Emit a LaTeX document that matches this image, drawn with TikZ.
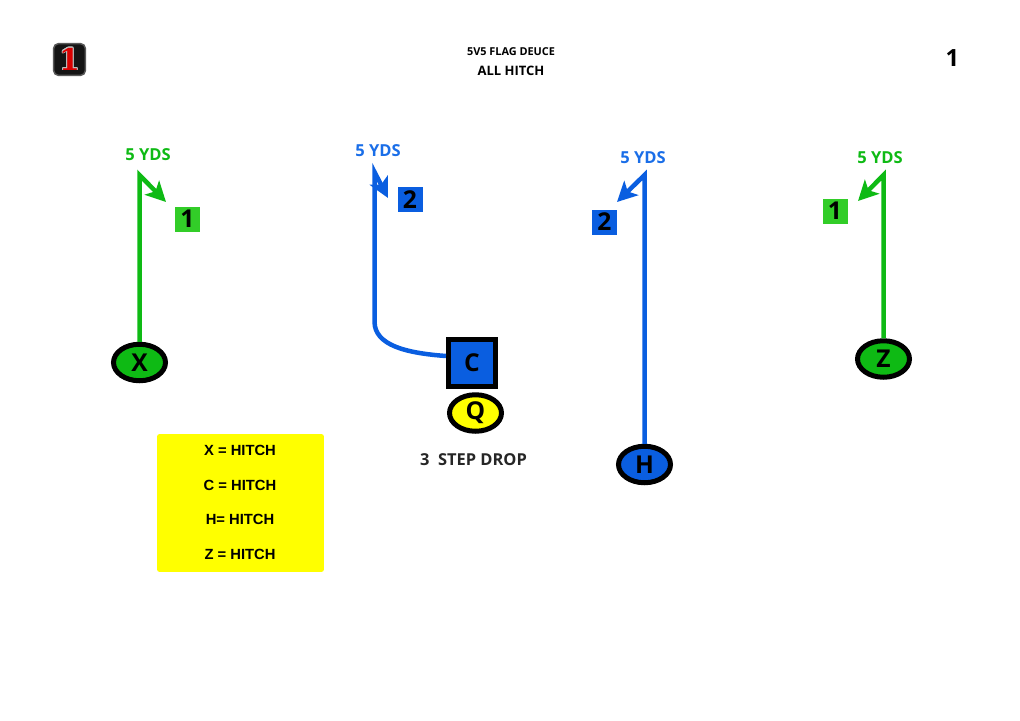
\documentclass[tikz,border=0pt]{standalone}
\usepackage{fontspec}
\usepackage{contour}
\setmainfont{Open Sans}
\newfontfamily\legendfont{Liberation Sans}
\newfontfamily\logofont{DejaVu Serif}
\usetikzlibrary{shapes,arrows.meta,positioning}
\definecolor{RouteGreen}{RGB}{14, 186, 20}
\definecolor{TagGreen}{RGB}{50, 205, 40}
\definecolor{RouteBlue}{RGB}{10, 94, 224}
\definecolor{LabelBlue}{RGB}{26, 110, 232}
\definecolor{LegendYellow}{RGB}{255, 255, 0}
\contourlength{0.4pt}

\begin{document}
\begin{tikzpicture}[
    x=0.02cm, y=-0.02cm,
    player/.style={ellipse, draw=black, line width=0.1cm, minimum width=1.04cm, minimum height=0.73cm, inner sep=0pt, font=\fontsize{14}{14}\selectfont\bfseries},
    center/.style={rectangle, draw=black, line width=0.1cm, minimum size=0.94cm, inner sep=0pt, font=\fontsize{14}{14}\selectfont\bfseries},
    tag/.style={rectangle, minimum size=0.5cm, inner sep=0pt, font=\fontsize{14}{14}\selectfont\bfseries},
    yds/.style={font=\fontsize{9.4}{9.4}\selectfont\bfseries},
    route/.style={line width=0.09cm, -{Stealth[length=0.4cm, width=0.4cm, inset=0.1cm]}},
    legendline/.style={font=\legendfont\fontsize{8.4}{8.4}\selectfont\bfseries}
]
\useasboundingbox (0,0) rectangle (1020,720);

% Header
\node[rectangle, fill=black!92, draw=black!65, line width=0.03cm, rounded corners=3pt, minimum size=0.64cm, inner sep=0pt, font=\logofont\fontsize{17}{17}\selectfont\bfseries] (logo) at (69.5,59.5) {\contour{white!75!black}{\textcolor{red!85!black}{1}}};
\node[font=\fontsize{6.2}{6.2}\selectfont\bfseries] (title) at (511,51.5) {5V5 FLAG DEUCE};
\node[font=\fontsize{7.4}{7.4}\selectfont\bfseries] (subtitle) at (511,71) {ALL HITCH};
\node[font=\fontsize{13.5}{13.5}\selectfont\bfseries] (page) at (952.5,58) {1};

% Players
\node[player, fill=RouteGreen] (X) at (139.5,362.5) {X};
\node[center, fill=RouteBlue] (C) at (472,362.5) {C};
\node[player, fill=LegendYellow] (Q) at (475.5,413) {Q};
\node[player, fill=RouteBlue] (H) at (644.5,464.5) {H};
\node[player, fill=RouteGreen] (Z) at (883.5,359) {Z};

% Route ends
\coordinate (Xtop) at (139.5,175);
\coordinate (Xtip) at (166,202);
\coordinate (Ctop) at (374.5,172);
\coordinate (Ctip) at (388,198);
\coordinate (Htop) at (644.5,175);
\coordinate (Htip) at (617,202);
\coordinate (Ztop) at (883.5,175);
\coordinate (Ztip) at (858,201);

% Routes
\draw[route, RouteGreen] (X) -- (Xtop) -- (Xtip);
\draw[route, RouteBlue] (C.west |- 0,356) .. controls (405,353) and (375,345) .. (374.5,322) -- (Ctop) -- (Ctip);
\draw[route, RouteBlue] (H) -- (Htop) -- (Htip);
\draw[route, RouteGreen] (Z) -- (Ztop) -- (Ztip);

% Yards
\node[yds, RouteGreen] (ydsX) at (148,154.5) {5 YDS};
\node[yds, LabelBlue] (ydsC) at (378,150.5) {5 YDS};
\node[yds, LabelBlue] (ydsH) at (643,157.5) {5 YDS};
\node[yds, RouteGreen] (ydsZ) at (880,157.5) {5 YDS};

% Read order
\node[tag, fill=TagGreen] (tagX) at (187.5,219) {1};
\node[tag, fill=RouteBlue] (tagC) at (410,199.5) {2};
\node[tag, fill=RouteBlue] (tagH) at (604.5,222) {2};
\node[tag, fill=TagGreen] (tagZ) at (835,211) {1};

% Drop
\node[font=\fontsize{9.35}{9.35}\selectfont\bfseries, text=black!85] (drop) at (473.5,459.5) {3\ \ STEP DROP};

% Legend
\node[rectangle, fill=LegendYellow, rounded corners=1.5pt, minimum width=3.34cm, minimum height=2.76cm, inner sep=0pt] (legend) at (240.5,503) {};
\node[legendline] (legendX) at (240,450.5) {X = HITCH};
\node[legendline] (legendC) at (240,485) {C = HITCH};
\node[legendline] (legendH) at (240,519.5) {H= HITCH};
\node[legendline] (legendZ) at (240,554) {Z = HITCH};

\end{tikzpicture}
\end{document}
